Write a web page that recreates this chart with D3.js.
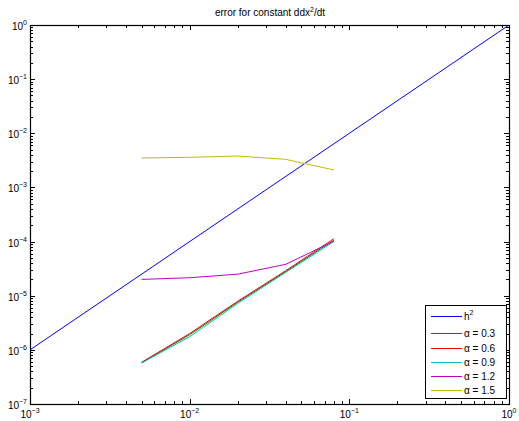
<!DOCTYPE html>
<html><head><meta charset="utf-8">
<script src="https://cdn.jsdelivr.net/npm/d3@7/dist/d3.min.js"></script>
<style>body{margin:0;background:#fff;} svg{display:block;font-family:"Liberation Sans",Arial,sans-serif;}</style>
</head><body>
<svg id="c" width="519" height="421"></svg>
<script>
const title = "error for constant ddx";
const hX = [1e-3, 1];
const hY = [1e-6, 1];
const h = [0.005, 0.01, 0.02, 0.04, 0.08];
const a03 = [5.8e-7, 1.9e-6, 7.6e-6, 2.8e-5, 1.06e-4];
const a06 = [5.9e-7, 2.0e-6, 7.9e-6, 2.9e-5, 1.13e-4];
const a09 = [5.7e-7, 1.75e-6, 7.2e-6, 2.7e-5, 1.0e-4];
const a12 = [2.0e-5, 2.15e-5, 2.5e-5, 3.8e-5, 1.02e-4];
const a15 = [3.5e-3, 3.6e-3, 3.8e-3, 3.3e-3, 2.1e-3];
const legendLabels = ["h", "\u03b1 = 0.3", "\u03b1 = 0.6", "\u03b1 = 0.9", "\u03b1 = 1.2", "\u03b1 = 1.5"];
const xTickExp = [-3, -2, -1, 0];
const yTickExp = [-7, -6, -5, -4, -3, -2, -1, 0];
const colors = ["#0000ff", "#008000", "#ff0000", "#00bfbf", "#bf00bf", "#bfbf00"];

const svg = d3.select("#c");
const L = 30, R = 509, T = 25, B = 404;
const x = d3.scaleLog().domain([1e-3, 1]).range([L, R]);
const y = d3.scaleLog().domain([1e-7, 1]).range([B, T]);

const line = d3.line().x(d => x(d[0])).y(d => y(d[1]));
const series = [
  d3.zip(hX, hY), d3.zip(h, a03), d3.zip(h, a06), d3.zip(h, a09), d3.zip(h, a12), d3.zip(h, a15)
];
const plot = svg.append("g");
plot.append("clipPath").attr("id", "clip").append("rect").attr("x", L).attr("y", T).attr("width", R - L).attr("height", B - T);
series.forEach((s, i) => {
  plot.append("path").attr("d", line(s)).attr("fill", "none").attr("stroke", colors[i]).attr("stroke-width", 1).attr("clip-path", "url(#clip)");
});

// ticks
const tk = svg.append("g").attr("stroke", "#000").attr("stroke-width", 1);
function ticksFor(domainExp) {
  const out = [];
  for (let e = domainExp[0]; e <= domainExp[domainExp.length - 1]; e++) {
    out.push({v: Math.pow(10, e), major: true});
    if (e < domainExp[domainExp.length - 1]) for (let m = 2; m <= 9; m++) out.push({v: m * Math.pow(10, e), major: false});
  }
  return out;
}
ticksFor(xTickExp).forEach(t => {
  const px = Math.round(x(t.v)) + 0.5, len = t.major ? 5 : 3;
  tk.append("line").attr("x1", px).attr("x2", px).attr("y1", B).attr("y2", B - len);
  tk.append("line").attr("x1", px).attr("x2", px).attr("y1", T).attr("y2", T + len);
});
ticksFor(yTickExp).forEach(t => {
  const py = Math.round(y(t.v)) + 0.5, len = t.major ? 5 : 3;
  tk.append("line").attr("x1", L).attr("x2", L + len).attr("y1", py).attr("y2", py);
  tk.append("line").attr("x1", R).attr("x2", R - len).attr("y1", py).attr("y2", py);
});

// box
svg.append("rect").attr("x", L + 0.5).attr("y", T + 0.5).attr("width", R - L).attr("height", B - T)
  .attr("fill", "none").attr("stroke", "#000").attr("stroke-width", 1.2);

// tick labels
function pow10(g, e, xp, yp, anchor) {
  const t = g.append("text").attr("x", xp).attr("y", yp).attr("text-anchor", anchor).attr("font-size", 10).attr("fill", "#000");
  t.append("tspan").text("10");
  t.append("tspan").attr("dy", -5).attr("font-size", 7).text(String(e).replace("-", "\u2212"));
}
const lab = svg.append("g");
xTickExp.forEach(e => pow10(lab, e, x(Math.pow(10, e)), 418, "middle"));
yTickExp.forEach(e => pow10(lab, e, 27, y(Math.pow(10, e)) + 5, "end"));

// title
const tt = svg.append("text").attr("x", 270).attr("y", 16).attr("text-anchor", "middle").attr("font-size", 10).attr("fill", "#000");
tt.append("tspan").text(title);
tt.append("tspan").attr("dy", -4).attr("font-size", 7).text("2");
tt.append("tspan").attr("dy", 4).text("/dt");

// legend
const lg = svg.append("g");
lg.append("rect").attr("x", 425.5).attr("y", 305.5).attr("width", 81).attr("height", 93).attr("fill", "#fff").attr("stroke", "#000").attr("stroke-width", 1);
const ly = [316, 333, 348, 362, 376, 390];
legendLabels.forEach((lbl, i) => {
  lg.append("line").attr("x1", 431).attr("x2", 462).attr("y1", ly[i] + 0.5).attr("y2", ly[i] + 0.5).attr("stroke", colors[i]).attr("stroke-width", 1);
  const t = lg.append("text").attr("x", 464).attr("y", ly[i] + 4).attr("font-size", 10).attr("fill", "#000");
  t.append("tspan").text(lbl);
  if (i === 0) t.append("tspan").attr("dy", -5).attr("font-size", 7).text("2");
});
</script>
</body></html>
